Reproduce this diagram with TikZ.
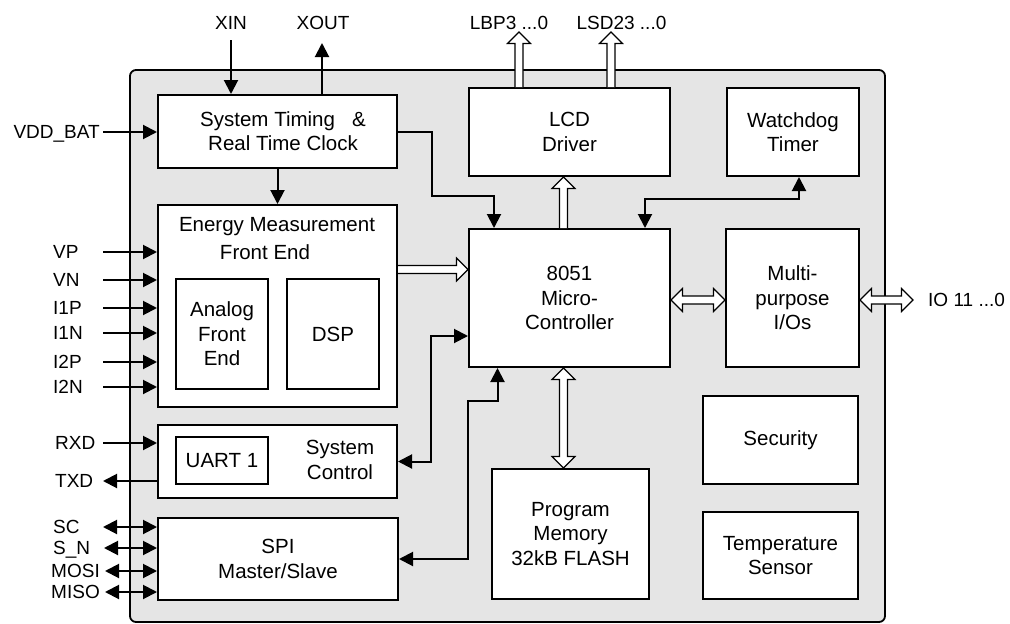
\documentclass[tikz,border=0pt]{standalone}
\usepackage{fontspec}
\setmainfont{Liberation Sans}
\usetikzlibrary{arrows.meta,calc}
\newcommand\fs{\fontsize{20.5}{24.5}\selectfont}
\newcommand\fl{\fontsize{19}{23}\selectfont}
\tikzset{
 box/.style={draw, line width=2pt, fill=white, inner sep=0pt, align=center, font=\fs},
 subbox/.style={draw, line width=1.2pt, fill=white, inner sep=0pt, align=center, font=\fs},
 txt/.style={inner sep=0pt, align=center, font=\fs},
 lbl/.style={inner sep=0pt, font=\fl, text height=13.6pt, text depth=0pt},
 arr/.style={line width=2pt, -{Triangle[length=14pt,width=14pt]}},
 arrb/.style={line width=2pt, {Triangle[length=14pt,width=14pt]}-{Triangle[length=14pt,width=14pt]}},
 busline/.style={draw, fill=white, line width=1.1pt, line join=miter},
}
\newcommand\busone[2]{%
 \coordinate (bS) at (#1); \coordinate (bT) at (#2);
 \coordinate (bH) at ($(bT)!11.5pt!(bS)$);
 \draw[busline] ($(bS)!4pt!90:(bT)$) -- ($(bH)!4pt!90:(bT)$) -- ($(bH)!11.5pt!90:(bT)$) -- (bT)
   -- ($(bH)!11.5pt!-90:(bT)$) -- ($(bH)!4pt!-90:(bT)$) -- ($(bS)!4pt!-90:(bT)$);}
\newcommand\bustwo[2]{%
 \coordinate (bS) at (#1); \coordinate (bT) at (#2);
 \coordinate (bH) at ($(bT)!11.5pt!(bS)$);
 \coordinate (bG) at ($(bS)!11.5pt!(bT)$);
 \draw[busline] (bS) -- ($(bG)!11.5pt!90:(bT)$) -- ($(bG)!4pt!90:(bT)$) -- ($(bH)!4pt!90:(bT)$)
   -- ($(bH)!11.5pt!90:(bT)$) -- (bT) -- ($(bH)!11.5pt!-90:(bT)$) -- ($(bH)!4pt!-90:(bT)$)
   -- ($(bG)!4pt!-90:(bT)$) -- ($(bG)!11.5pt!-90:(bT)$) -- cycle;}
\begin{document}
\begin{tikzpicture}[x=1pt,y=-1pt]
\useasboundingbox (0,0) rectangle (1010,624);
% chip background
\draw[line width=1.8pt, fill=black!10, rounded corners=6pt] (130,70) rectangle (885,622);

% blocks
\node[box, minimum width=239pt, minimum height=73pt] (st) at (277.5,131.5) {};
\node[txt] (sttxt) at (283,131) {System Timing\ \ \ \&\\Real Time Clock};
\node[box, minimum width=201pt, minimum height=88pt] (lcd) at (569.5,132) {LCD\\Driver};
\node[box, minimum width=132pt, minimum height=88pt] (wd) at (793,132) {Watchdog\\Timer};
\node[box, minimum width=239pt, minimum height=202pt] (em) at (277.5,306) {};
\node[txt] (emt1) at (277,227) {Energy Measurement};
\node[txt] (emt2) at (265,252) {Front End};
\node[subbox, minimum width=92pt, minimum height=110pt] (afe) at (222,334) {Analog\\Front\\End};
\node[subbox, minimum width=92pt, minimum height=110pt] (dsp) at (333,334) {DSP};
\node[box, minimum width=201pt, minimum height=138pt] (mcu) at (569.5,298) {8051\\Micro-\\Controller};
\node[box, minimum width=133pt, minimum height=138pt] (mio) at (792.5,298) {Multi-\\purpose\\I/Os};
\node[box, minimum width=239pt, minimum height=73pt] (sc) at (277.5,461.5) {};
\node[subbox, minimum width=92pt, minimum height=47pt] (uart) at (222,460.5) {UART 1};
\node[txt] (sctxt) at (340,460) {System\\Control};
\node[box, minimum width=240pt, minimum height=82pt] (spi) at (278,559) {SPI\\Master/Slave};
\node[box, minimum width=157pt, minimum height=130pt] (pm) at (570.5,534) {Program\\Memory\\32kB FLASH};
\node[box, minimum width=155pt, minimum height=88pt] (sec) at (780.5,440) {Security};
\node[box, minimum width=155pt, minimum height=87pt] (temp) at (780.5,555.5) {Temperature\\Sensor};

% external labels
\node[lbl] (xin) at (231,23) {XIN};
\node[lbl] (xout) at (323,23) {XOUT};
\node[lbl] (lbp) at (509,23) {LBP3 ...0};
\node[lbl] (lsd) at (621.5,23) {LSD23 ...0};
\node[lbl, anchor=west] (io) at (928,300) {IO 11 ...0};
\node[lbl, anchor=east] (vdd) at (100,132) {VDD\_BAT};
\node[lbl, anchor=west] (vp) at (53,252) {VP};
\node[lbl, anchor=west] (vn) at (53,280) {VN};
\node[lbl, anchor=west] (i1p) at (53,308) {I1P};
\node[lbl, anchor=west] (i1n) at (53,333) {I1N};
\node[lbl, anchor=west] (i2p) at (53,362) {I2P};
\node[lbl, anchor=west] (i2n) at (53,387) {I2N};
\node[lbl, anchor=west] (rxd) at (55,443) {RXD};
\node[lbl, anchor=west] (txd) at (55,481) {TXD};
\node[lbl, anchor=west] (scl) at (53,527) {SC};
\node[lbl, anchor=west] (ssn) at (53,548) {S\_N};
\node[lbl, anchor=east] (mosi) at (100,571) {MOSI};
\node[lbl, anchor=east] (miso) at (100,592) {MISO};

% free ends
\coordinate (xinS) at (231,40);
\coordinate (xoutT) at (322,43);
\coordinate (lbpT) at (519,32);
\coordinate (lsdT) at (611,32);
\coordinate (ioT) at (913,300);

% single-line connectors
\draw[arr] (xinS) -- (xinS |- st.north);
\draw[arr] (st.north -| xoutT) -- (xoutT);
\draw[arr] ([xshift=3pt]vdd.east) -- (vdd.east -| st.west);
\draw[arr] (st.south) -- (em.north);
\draw[arr] (st.east) -| (431.5,195.5) -| (mcu.north -| 494,0);
\draw[arrb] (mcu.north -| 645,0) |- (799,199) -- (wd.south -| 799,0);

\draw[arr] (vp.east -| 103,0) -- (vp.east -| em.west);
\draw[arr] (vn.east -| 103,0) -- (vn.east -| em.west);
\draw[arr] (i1p.east -| 103,0) -- (i1p.east -| em.west);
\draw[arr] (i1n.east -| 103,0) -- (i1n.east -| em.west);
\draw[arr] (i2p.east -| 103,0) -- (i2p.east -| em.west);
\draw[arr] (i2n.east -| 103,0) -- (i2n.east -| em.west);
\draw[arr] (rxd.east -| 103,0) -- (rxd.east -| sc.west);
\draw[arr] (txd.east -| sc.west) -- (txd.east -| 103,0);
\draw[arrb] (scl.east -| 103,0) -- (scl.east -| spi.west);
\draw[arrb] (ssn.east -| 104,0) -- (ssn.east -| spi.west);
\draw[arrb] (mosi.east -| 105,0) -- (mosi.east -| spi.west);
\draw[arrb] (miso.east -| 105,0) -- (miso.east -| spi.west);

\draw[arrb] (sc.east) -| (431,336) -- (431,336 -| mcu.west);
\draw[arrb] (spi.east) -| (468,401) -| (mcu.south -| 497.5,0);

% buses
\busone{519,0 |- lcd.north}{lbpT}
\busone{611,0 |- lcd.north}{lsdT}
\busone{563.5,0 |- mcu.north}{563.5,0 |- lcd.south}
\busone{em.east |- 0,269.5}{mcu.west |- 0,269.5}
\bustwo{mcu.east |- 0,300}{mio.west |- 0,300}
\bustwo{mio.east |- 0,300}{ioT}
\bustwo{563.5,0 |- mcu.south}{563.5,0 |- pm.north}
\end{tikzpicture}
\end{document}
